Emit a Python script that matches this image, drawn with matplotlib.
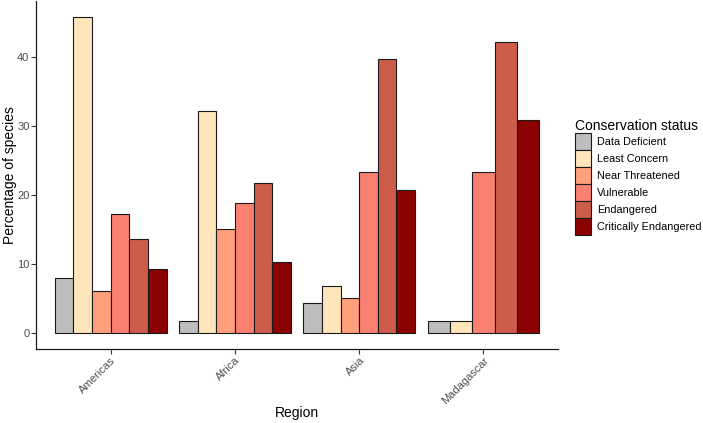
import numpy as np
import matplotlib.pyplot as plt
from matplotlib.patches import Patch

plt.rcParams['font.family'] = ['Liberation Sans', 'DejaVu Sans']

regions = ["Americas", "Africa", "Asia", "Madagascar"]
statuses = ["Data Deficient", "Least Concern", "Near Threatened",
            "Vulnerable", "Endangered", "Critically Endangered"]
colors = ["#BEBEBE", "#FFE5B9", "#FFA07A", "#FA8072", "#CD5C4A", "#8B0000"]

# percentage of species per status, None = category absent in region
data_deficient = [8.0, 1.8, 4.3, 1.8]
least_concern = [45.8, 32.1, 6.9, 1.8]
near_threatened = [6.1, 15.1, 5.15, None]
vulnerable = [17.3, 18.9, 23.3, 23.4]
endangered = [13.6, 21.7, 39.7, 42.1]
critically_endangered = [9.25, 10.35, 20.7, 30.9]

series = [data_deficient, least_concern, near_threatened,
          vulnerable, endangered, critically_endangered]

fig = plt.figure(figsize=(7.03, 4.23), dpi=100)
ax = fig.add_axes([36 / 703, 1 - 349 / 423, 522 / 703, 348 / 423])

# dodge like ggplot: bars share the group width, missing ones get dropped
group_w = 0.9
for i, region in enumerate(regions):
    present = [k for k in range(len(statuses)) if series[k][i] is not None]
    bw = group_w / len(present)
    for j, k in enumerate(present):
        x = i + 1 - group_w / 2 + bw * (j + 0.5)
        ax.bar(x, series[k][i], width=bw, color=colors[k],
               edgecolor="#1a1a1a", linewidth=0.8)

ymax = max(v for s in series for v in s if v is not None)
ax.set_xlim(0.4, 4.6)
ax.set_ylim(-0.05 * ymax, ymax * 1.05)
ax.set_xticks(range(1, 5))
ax.set_xticklabels(regions, rotation=45, ha="right", rotation_mode="anchor")
ax.set_yticks([0, 10, 20, 30, 40])
ax.tick_params(colors="#333333", labelcolor="#4D4D4D", labelsize=8,
               length=3.5, width=0.8, pad=1.2)
ax.spines["top"].set_visible(False)
ax.spines["right"].set_visible(False)
for side in ["left", "bottom"]:
    ax.spines[side].set_linewidth(0.9)
    ax.spines[side].set_color("#1a1a1a")

ax.set_xlabel("Region", fontsize=10)
ax.set_ylabel("Percentage of species", fontsize=10)
ax.xaxis.set_label_coords(0.5, (349 - 413) / 348)
ax.xaxis.label.set_va("center")
ax.yaxis.set_label_coords((10 - 36) / 522, 0.5)
ax.yaxis.label.set_va("center")

handles = [Patch(facecolor=c, edgecolor="#1a1a1a", linewidth=0.8) for c in colors]
leg = fig.legend(handles, statuses, title="Conservation status",
                 loc="upper left", bbox_to_anchor=(575 / 703, 1 - 119 / 423),
                 frameon=False, fontsize=7.8, title_fontsize=10,
                 handlelength=1.48, handleheight=2.04, handletextpad=0.55,
                 labelspacing=0.0, borderaxespad=0, borderpad=0)
leg._legend_box.align = "left"

fig.savefig("out.png", dpi=100)
